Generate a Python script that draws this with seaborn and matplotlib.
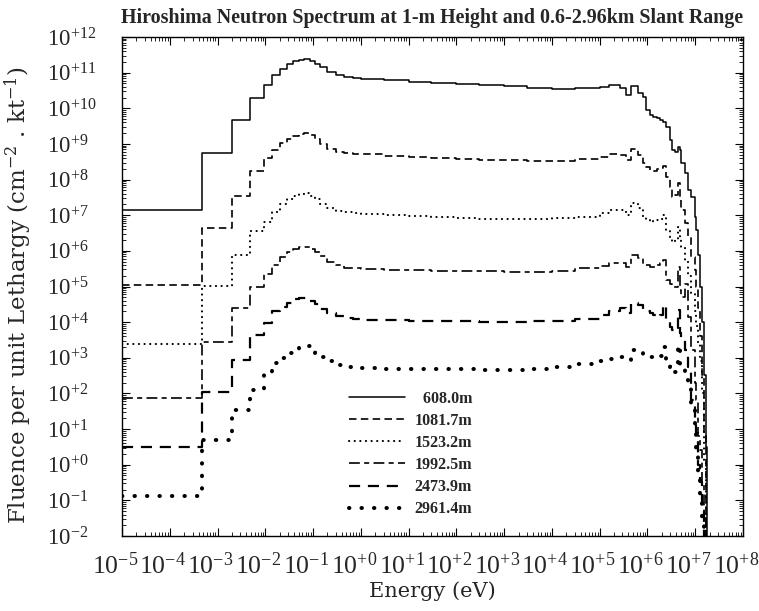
import numpy as np
import pandas as pd
import matplotlib
matplotlib.use("Agg")
import matplotlib.pyplot as plt
import matplotlib.ticker as mticker
import matplotlib.transforms as mtransforms
import seaborn as sns

# Group lower-edge energies (eV), shared by all series (histogram, steps-post)
energy_ev = [1e-5, 4.8e-4, 1.97e-3, 4.8e-3, 9.3e-3, 1.4e-2, 2.0e-2, 2.8e-2, 3.8e-2, 5.0e-2,
             6.5e-2, 8.5e-2, 0.11, 0.14, 0.2, 0.3, 0.45, 0.7, 1, 3,
             10, 30, 100, 300, 1e3, 3e3, 1e4, 3e4, 1e5, 1.6e5,
             2.6e5, 3.6e5, 4.6e5, 6.3e5, 8.1e5, 9.5e5, 1.12e6, 1.32e6, 1.55e6, 1.8e6,
             2.1e6, 2.45e6, 2.9e6, 3.2e6, 3.7e6, 4.4e6, 4.7e6, 5.1e6, 6.0e6, 7.1e6,
             8.3e6, 9.8e6, 1.05e7, 1.15e7, 1.26e7, 1.38e7, 1.51e7, 1.66e7, 1.78e7, 2.0e7]

fluence_608 = [1.4e7, 5.5e8, 4.7e9, 1.9e10, 4.5e10, 8.5e10, 1.3e11, 1.8e11, 2.1e11, 2.3e11,
               2.4e11, 2.1e11, 1.8e11, 1.4e11, 1.05e11, 8.5e10, 7.6e10, 7.1e10, 6.8e10, 6.2e10,
               5.6e10, 5.1e10, 4.8e10, 4.5e10, 4.2e10, 3.8e10, 3.5e10, 3.6e10, 4.0e10, 4.4e10,
               3.8e10, 2.3e10, 4.2e10, 2.6e10, 2.1e10, 8.9e9, 6.5e9, 5.8e9, 5.2e9, 4.7e9,
               4.2e9, 3.0e9, 1.3e9, 6.8e8, 6.0e8, 8.3e8, 6.8e8, 2.9e8, 1.5e8, 5.1e7,
               3.3e7, 9.1e6, 3.9e6, 7.9e5, 1.0e5, 1.0e4, 3.2e2, 3.2, 1e-3, 1e-3]

fluence_1082 = [1.1e5, 4.3e6, 3.5e7, 1.7e8, 4.0e8, 6.8e8, 1.05e9, 1.4e9, 1.7e9, 1.9e9,
                2.0e9, 1.75e9, 1.4e9, 1.0e9, 7.4e8, 6.0e8, 5.5e8, 5.2e8, 5.1e8, 4.7e8,
                4.3e8, 4.0e8, 3.7e8, 3.6e8, 3.5e8, 3.4e8, 3.4e8, 3.7e8, 4.3e8, 5.1e8,
                4.9e8, 3.5e8, 7.2e8, 4.9e8, 2.9e8, 2.2e8, 1.9e8, 1.7e8, 2.0e8, 2.1e8,
                2.4e8, 1.2e8, 6.2e7, 3.2e7, 3.6e7, 7.9e7, 3.2e7, 1.4e7, 6.0e6, 2.5e6,
                6.8e5, 2.9e5, 1.0e5, 2.5e4, 4.0e3, 3.2e2, 6.3, 1e-3, 1e-3, 1e-3]

fluence_1523 = [2.4e3, 1.05e5, 7.6e5, 3.5e6, 6.6e6, 1.26e7, 2.0e7, 2.8e7, 3.5e7, 4.0e7,
                4.1e7, 3.5e7, 2.9e7, 2.1e7, 1.6e7, 1.3e7, 1.2e7, 1.15e7, 1.1e7, 1.0e7,
                9.3e6, 8.7e6, 8.3e6, 7.9e6, 7.8e6, 7.8e6, 8.1e6, 9.1e6, 1.15e7, 1.4e7,
                1.4e7, 1.0e7, 2.2e7, 1.6e7, 8.9e6, 7.4e6, 6.5e6, 6.9e6, 7.4e6, 7.9e6,
                1.0e7, 3.8e6, 2.5e6, 1.8e6, 2.0e6, 4.7e6, 2.0e6, 1.3e6, 5.5e5, 2.0e5,
                6.3e4, 2.0e4, 7.9e3, 2.5e3, 7.9e2, 1.0e2, 1.3, 1e-3, 1e-3, 1e-3]

fluence_1993 = [74, 2.8e3, 2.5e4, 1.0e5, 2.3e5, 4.0e5, 6.9e5, 9.5e5, 1.15e6, 1.3e6,
                1.3e6, 1.1e6, 9.1e5, 7.1e5, 5.0e5, 4.0e5, 3.4e5, 3.2e5, 3.0e5, 2.95e5,
                2.9e5, 2.8e5, 2.75e5, 2.7e5, 2.6e5, 2.6e5, 2.8e5, 3.2e5, 3.8e5, 4.6e5,
                4.6e5, 3.5e5, 7.6e5, 6.3e5, 4.0e5, 4.0e5, 3.5e5, 3.5e5, 4.0e5, 4.5e5,
                5.5e5, 1.5e5, 1.2e5, 1.0e5, 1.0e5, 3.5e5, 7.9e4, 5.1e4, 1.2e5, 1.4e4,
                1.7e3, 2.0e2, 66, 6.3, 2.6, 0.32, 0.032, 1e-3, 1e-3, 1e-3]

fluence_2474 = [3.2, 1.1e2, 8.7e2, 4.4e3, 9.3e3, 2.1e4, 2.7e4, 3.5e4, 4.4e4, 4.8e4,
                4.9e4, 4.0e4, 3.2e4, 2.4e4, 1.8e4, 1.45e4, 1.3e4, 1.2e4, 1.15e4, 1.12e4,
                1.1e4, 1.07e4, 1.05e4, 1.02e4, 1.02e4, 1.05e4, 1.1e4, 1.26e4, 1.6e4, 2.0e4,
                2.5e4, 1.8e4, 3.4e4, 3.0e4, 2.2e4, 2.0e4, 1.8e4, 1.6e4, 1.4e4, 1.6e4,
                3.0e4, 1.15e4, 7.4e3, 6.0e3, 5.6e3, 2.2e4, 4.9e3, 3.2e3, 1.7e3, 5.5e2,
                66, 16, 7.8, 1.0, 0.32, 0.05, 1e-3, 1e-3, 1e-3, 1e-3]

fluence_2961 = [0.13, 4.9, 35, 1.26e2, 3.5e2, 7.1e2, 1.0e3, 1.35e3, 1.7e3, 2.0e3,
                2.1e3, 1.85e3, 1.4e3, 1.05e3, 7.9e2, 6.3e2, 5.6e2, 5.2e2, 5.1e2, 5.0e2,
                4.9e2, 4.8e2, 4.7e2, 4.6e2, 4.6e2, 4.9e2, 5.5e2, 6.6e2, 7.9e2, 9.1e2,
                1.05e3, 8.7e2, 1.7e3, 1.45e3, 1.2e3, 1.1e3, 1.05e3, 1.0e3, 1.0e3, 1.1e3,
                2.0e3, 6.3e2, 5.5e2, 3.8e2, 4.0e2, 2.3e3, 6.3e2, 5.5e2, 4.0e2, 1.5e2,
                40, 7.8, 2.6, 0.5, 0.13, 0.032, 1e-3, 1e-3, 1e-3, 1e-3]

series_labels = ["608.0m", "1081.7m", "1523.2m", "1992.5m", "2473.9m", "2961.4m"]
series_values = [fluence_608, fluence_1082, fluence_1523, fluence_1993, fluence_2474, fluence_2961]

x_decades = list(range(-5, 9))
y_decades = list(range(-2, 13))

title_text = "Hiroshima Neutron Spectrum at 1-m Height and 0.6-2.96km Slant Range"
xlabel_text = "Energy (eV)"
ylabel_text = "Fluence per unit Lethargy (cm$^{-2}$ . kt$^{-1}$)"

sns.set_style("ticks")
plt.rcParams["font.family"] = ["DejaVu Serif"]
plt.rcParams["mathtext.fontset"] = "dejavuserif"

W, H = 759, 611
fig = plt.figure(figsize=(W / 100, H / 100), dpi=100)
L, R, T, B = 122, 743, 37, 536
ax = fig.add_axes([L / W, 1 - B / H, (R - L) / W, (B - T) / H])

styles = [
    dict(linestyle="-", linewidth=1.1),
    dict(linestyle=(0, (4.5, 2.6)), linewidth=1.2),
    dict(linestyle=(0, (0.1, 2.6)), linewidth=1.5, dash_capstyle="round"),
    dict(linestyle=(0, (6.5, 2.6, 3.0, 2.6)), linewidth=1.2),
    dict(linestyle=(0, (5.0, 3.5)), linewidth=1.6),
    dict(linestyle=(0, (0.1, 3.0)), linewidth=2.9, dash_capstyle="round"),
]

frames = []
for lab, vals in zip(series_labels, series_values):
    frames.append(pd.DataFrame({"Energy": energy_ev, "Fluence": vals, "Range": lab}))
df = pd.concat(frames, ignore_index=True)

disp = {"608.0m": "\u2007608.0m"}
for lab, st in zip(series_labels, styles):
    sub = df[df["Range"] == lab]
    sns.lineplot(data=sub, x="Energy", y="Fluence", ax=ax, color="black",
                 drawstyle="steps-post", estimator=None, sort=False,
                 label=disp.get(lab, lab), **st)

ax.set_xscale("log")
ax.set_yscale("log")
ax.set_xlim(10.0 ** x_decades[0], 10.0 ** x_decades[-1])
ax.set_ylim(10.0 ** y_decades[0], 10.0 ** y_decades[-1])

fmt = mticker.FuncFormatter(lambda v, pos: r"$\mathregular{10^{%+d}}$" % int(round(np.log10(v))))
for axis, decs in ((ax.xaxis, x_decades), (ax.yaxis, y_decades)):
    majors = [10.0 ** k for k in decs]
    minors = [m * 10.0 ** k for k in decs[:-1] for m in range(2, 10)]
    axis.set_major_locator(mticker.FixedLocator(majors))
    axis.set_minor_locator(mticker.FixedLocator(minors))
    axis.set_major_formatter(fmt)
    axis.set_minor_formatter(mticker.NullFormatter())

ax.tick_params(which="both", direction="in", top=True, right=True, color="black")
ax.tick_params(which="major", length=6, width=0.8)
ax.tick_params(which="minor", length=3, width=0.6)
ax.tick_params(axis="x", which="major", pad=12, labelsize=18.5, labelfontfamily="Liberation Serif")
ax.tick_params(axis="y", which="major", pad=54, labelsize=16.5, labelfontfamily="Liberation Serif")
for t in ax.yaxis.get_major_ticks():
    t.label1.set_horizontalalignment("left")
shift = mtransforms.ScaledTranslation(-7 / 100, 0, fig.dpi_scale_trans)
for t in ax.xaxis.get_major_ticks():
    t.label1.set_transform(t.label1.get_transform() + shift)
for sp in ax.spines.values():
    sp.set_linewidth(1.0)
    sp.set_color("black")

ax.set_xlabel(xlabel_text, fontsize=15)
ax.xaxis.set_label_coords(0.5, -(581 - B) / (B - T))
ax.set_ylabel(ylabel_text, fontsize=16.5)
ax.yaxis.set_label_coords((34 - L) / (R - L), (B - 295) / (B - T))

fig.text((L + R) / 2 / W, 1 - 18 / H, title_text, ha="center", va="center",
         fontfamily="Liberation Serif", fontweight="bold", fontsize=14.4)

ax.legend(loc="center", bbox_to_anchor=((411 - L) / (R - L), (B - 454) / (B - T)),
          frameon=False, prop={"family": "Liberation Serif", "weight": "bold", "size": 11.5},
          handlelength=3.5, handletextpad=0.6, labelspacing=0.38, borderpad=0.2)

fig.savefig("out.png", dpi=100)
